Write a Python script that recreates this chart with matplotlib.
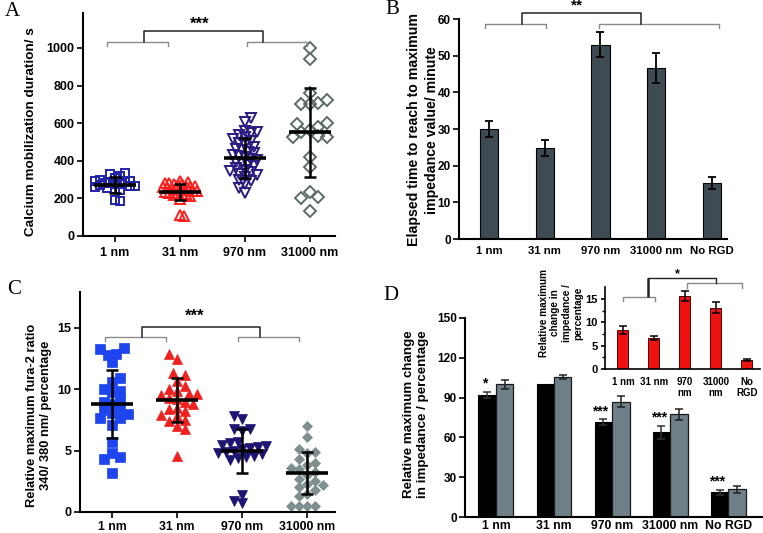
import numpy as np
import matplotlib
matplotlib.use('Agg')
import matplotlib.pyplot as plt

plt.rcParams['font.family'] = ['Liberation Sans', 'DejaVu Sans']
plt.rcParams['font.weight'] = 'bold'

W, H = 763, 533

# ---------------- data ----------------
scatter_cats = ['1 nm', '31 nm', '970 nm', '31000 nm']
bar_cats = ['1 nm', '31 nm', '970 nm', '31000 nm', 'No RGD']
inset_cats = ['1 nm', '31 nm', '970\nnm', '31000\nnm', 'No\nRGD']

# Panel A: calcium mobilization duration (s)
a_1nm = [335, 330, 320, 310, 300, 295, 290, 285, 282, 280, 278, 275, 270, 268, 265, 260, 255, 250, 245, 190, 185]
a_31nm = [295, 288, 283, 280, 277, 274, 270, 267, 264, 262, 259, 256, 253, 250, 248, 245, 242, 240, 237,
          234, 231, 228, 225, 222, 218, 212, 195, 112, 108]
a_970nm = [628, 608, 560, 555, 548, 535, 528, 515, 505, 495, 485, 475, 465, 455, 448, 440, 432, 425, 418,
           410, 402, 395, 388, 380, 372, 362, 352, 346, 340, 332, 322, 312, 300, 290, 278, 255, 230]
a_31000nm = [998, 940, 759, 723, 708, 702, 700, 600, 597, 580, 564, 555, 532, 528, 528, 422, 365, 236, 210, 200, 135]
a_mean = [270, 235, 413, 551]
a_sd = [42, 43, 107, 235]

# Panel B: elapsed time to max impedance (minute)
b_mean = [30.0, 24.8, 53.0, 46.7, 15.3]
b_err = [2.2, 2.2, 3.4, 4.1, 1.7]

# Panel C: relative max fura-2 ratio
c_1nm = [13.4, 13.3, 12.9, 12.8, 12.2, 10.9, 10.6, 10.0, 9.9, 9.8, 9.2, 9.0, 8.8, 8.5, 8.3, 8.1, 8.0, 7.7, 7.7,
         7.1, 5.7, 4.8, 4.5, 4.3, 3.2]
c_31nm = [12.9, 12.5, 11.3, 11.2, 10.7, 10.3, 10.0, 9.9, 9.6, 9.6, 9.5, 9.3, 9.2, 9.0, 8.8, 8.5, 8.4, 8.2, 7.9,
          7.8, 7.5, 7.4, 7.0, 6.8, 4.6]
c_970nm = [7.8, 7.6, 6.8, 6.8, 6.6, 5.7, 5.6, 5.5, 5.4, 5.3, 5.2, 5.1, 5.0, 4.9, 4.8, 4.7, 4.6, 4.5, 4.4, 4.2,
           1.4, 0.9, 0.7]
c_31000nm = [7.0, 6.1, 5.1, 4.9, 4.8, 4.3, 4.0, 3.8, 3.6, 3.5, 3.3, 3.0, 2.7, 2.5, 2.3, 2.2, 2.0, 1.8, 1.5,
             1.3, 0.5, 0.5, 0.5, 0.5]
c_mean = [8.8, 9.1, 4.95, 3.15]
c_sd = [2.8, 1.8, 1.8, 1.7]

# Panel D: relative maximum change in impedance (%)
d_black = [92.0, 100.0, 71.3, 63.8, 18.6]
d_black_err = [2.5, 0.0, 2.3, 5.0, 1.7]
d_gray = [100.0, 105.5, 86.9, 77.4, 20.8]
d_gray_err = [3.3, 1.8, 4.2, 4.0, 2.6]
d_stars = ['*', '', '***', '***', '***']

# Panel D inset
i_mean = [8.3, 6.6, 15.6, 13.1, 1.9]
i_err = [0.85, 0.45, 1.0, 1.15, 0.25]

# ---------------- helpers ----------------
fig = plt.figure(figsize=(W / 100, H / 100), dpi=100)


def px_axes(x0, y0, x1, y1):
    return fig.add_axes([x0 / W, 1 - y1 / H, (x1 - x0) / W, (y1 - y0) / H])


def style(ax, lw=1.5, fs=8.5):
    for s in ['top', 'right']:
        ax.spines[s].set_visible(False)
    for s in ['left', 'bottom']:
        ax.spines[s].set_linewidth(lw)
    ax.tick_params(axis='both', direction='out', width=1.2, length=4, labelsize=fs, pad=2)
    for lab in ax.get_xticklabels() + ax.get_yticklabels():
        lab.set_fontweight('bold')


def swarm(ax, xc, vals, d):
    vals = np.asarray(vals, float)
    pts = ax.transData.transform(np.column_stack([np.full(len(vals), xc), vals]))
    ypx = pts[:, 1]
    xpu = ax.transData.transform([[1, 0]])[0, 0] - ax.transData.transform([[0, 0]])[0, 0]
    order = np.argsort(np.abs(vals - np.median(vals)), kind='stable')
    placed = []
    offs = np.zeros(len(vals))
    step = d / 2.0
    for n, idx in enumerate(order):
        sign = 1 if n % 2 == 0 else -1
        for k in range(200):
            cand = ((k + 1) // 2) * step * (sign if k % 2 else -sign)
            ok = True
            for (px, py) in placed:
                if (cand - px) ** 2 + (ypx[idx] - py) ** 2 < d * d:
                    ok = False
                    break
            if ok:
                break
        placed.append((cand, ypx[idx]))
        offs[idx] = cand
    return offs / xpu


def sig_brackets(ax, g1, g2, top, ygray, ydrop, ytop, star, ystar, xstar, fs=12):
    for (x0, x1) in (g1, g2):
        ax.plot([x0, x0, x1, x1], [ydrop, ygray, ygray, ydrop], color='#8a8a8a', lw=1.0, clip_on=False)
    ax.plot([top[0], top[0], top[1], top[1]], [ygray, ytop, ytop, ygray], color='#222222', lw=1.1,
            clip_on=False)
    ax.text(xstar, ystar, star, ha='center', va='center', fontsize=fs, fontweight='bold', clip_on=False)


def scatter_panel(ax, groups, means, sds, markers, colors, filled, sizes, dists):
    for i, vals in enumerate(groups):
        x = i + 1
        off = swarm(ax, x, vals, dists[i])
        if filled:
            ax.plot(x + off, vals, ls='none', marker=markers[i], ms=sizes[i], mfc=colors[i], mec=colors[i],
                    mew=0.5, zorder=2)
        else:
            ax.plot(x + off, vals, ls='none', marker=markers[i], ms=sizes[i], mfc='none', mec=colors[i],
                    mew=1.4, zorder=2)
        ax.plot([x - 0.33, x + 0.33], [means[i], means[i]], color='black', lw=2.6, solid_capstyle='butt',
                zorder=4)
        ax.errorbar(x, means[i], yerr=sds[i], fmt='none', ecolor='black', elinewidth=1.8, capsize=4.3,
                    capthick=1.8, zorder=4)


def letter(x, y, s):
    fig.text(x / W, 1 - y / H, s, fontfamily='Liberation Serif', fontweight='normal', fontsize=15,
             ha='left', va='center')


def vlabel(x, y, s, fs, ls=1.2):
    fig.text(x / W, 1 - y / H, s, rotation=90, ha='center', va='center', fontsize=fs, fontweight='bold',
             multialignment='center', linespacing=ls)


# ---------------- Panel A ----------------
axA = px_axes(83, 13, 335, 236)
axA.set_xlim(0.508, 4.385)
axA.set_ylim(0, 1186)
axA.set_yticks([0, 200, 400, 600, 800, 1000])
axA.set_xticks([1, 2, 3, 4])
axA.set_xticklabels(scatter_cats)
style(axA, fs=9)
axA.tick_params(axis='x', pad=4)
scatter_panel(axA, [a_1nm, a_31nm, a_970nm, a_31000nm], a_mean, a_sd,
              ['s', '^', 'v', 'D'], ['#2323a8', '#ff1f1f', '#2b1a80', '#5e6b6b'], False,
              [6.2, 7.5, 7.5, 5.8], [5.0, 4.2, 6.0, 8.5])
sig_brackets(axA, (0.88, 1.82), (3.03, 3.95), (1.45, 3.28), 1032, 1011, 1091, '***', 1128, 2.3)
letter(5, 12, 'A')
vlabel(31, 132, 'Calcium mobilization duration/ s', 9.7)

# ---------------- Panel B ----------------
axB = px_axes(459, 19, 727, 239)
xb = np.arange(len(bar_cats))
axB.bar(xb, b_mean, width=0.33, color='#3e4b53', edgecolor='black', linewidth=0.8, zorder=2)
axB.errorbar(xb, b_mean, yerr=b_err, fmt='none', ecolor='black', elinewidth=1.3, capsize=2.9, capthick=1.3,
             zorder=3)
axB.set_xlim(-0.538, 4.27)
axB.set_ylim(0, 60)
axB.set_yticks(range(0, 61, 10))
axB.set_xticks(xb)
axB.set_xticklabels(bar_cats)
style(axB, fs=8.5)
axB.tick_params(axis='x', length=0, pad=5, labelsize=8.2)
sig_brackets(axB, (-0.07, 1.02), (1.97, 4.13), (0.59, 2.73), 58.6, 57.5, 61.6, '**', 63.6, 1.58, fs=11)
letter(385, 10, 'B')
vlabel(423, 130, 'Elapsed time to reach to maximum\nimpedance value/ minute', 10.2, 1.3)

# ---------------- Panel C ----------------
axC = px_axes(80, 292, 335, 512)
axC.set_xlim(0.508, 4.43)
axC.set_ylim(0, 17.93)
axC.set_yticks([0, 5, 10, 15])
axC.set_xticks([1, 2, 3, 4])
axC.set_xticklabels(scatter_cats)
style(axC, fs=9)
axC.tick_params(axis='x', pad=2.5, labelsize=8.8)
scatter_panel(axC, [c_1nm, c_31nm, c_970nm, c_31000nm], c_mean, c_sd,
              ['s', '^', 'v', 'D'], ['#1f45ee', '#ee2020', '#1e1472', '#7f8f8f'], True,
              [6.5, 6.5, 6.5, 5.2], [8.0, 8.0, 8.0, 8.0])
sig_brackets(axC, (0.89, 1.83), (2.94, 3.88), (1.46, 3.28), 14.26, 13.9, 15.08, '***', 15.95, 2.27)
letter(7, 290, 'C')
vlabel(39, 415, 'Relative maximum fura-2 ratio\n340/ 380 nm/ percentage', 9.3, 1.2)

# ---------------- Panel D ----------------
axD = px_axes(465, 318, 762, 517)
xd = np.arange(len(bar_cats))
bw = 0.30
axD.bar(xd - bw / 2, d_black, width=bw, color='black', edgecolor='black', linewidth=0.8, zorder=2)
axD.bar(xd + bw / 2, d_gray, width=bw, color='#6e7f87', edgecolor='#1a1a1a', linewidth=0.9, zorder=2)
be = np.array(d_black_err)
mask = be > 0
axD.errorbar((xd - bw / 2)[mask], np.array(d_black)[mask], yerr=be[mask], fmt='none', ecolor='#333333',
             elinewidth=1.1, capsize=2.8, capthick=1.1, zorder=3)
axD.errorbar(xd + bw / 2, d_gray, yerr=d_gray_err, fmt='none', ecolor='#222222', elinewidth=1.1, capsize=2.8,
             capthick=1.1, zorder=3)
for i, s in enumerate(d_stars):
    if s:
        top = d_black[i] + d_black_err[i]
        axD.text(xd[i] - bw / 2 - 0.05, top + 1.0, s, ha='center', va='bottom', fontsize=10,
                 fontweight='bold')
axD.set_xlim(-0.532, 4.58)
axD.set_ylim(0, 150)
axD.set_yticks(range(0, 151, 30))
axD.set_xticks(xd)
axD.set_xticklabels(bar_cats)
style(axD, fs=8.5)
axD.tick_params(axis='x', length=0, pad=2, labelsize=8.8)
letter(383, 295, 'D')
vlabel(416, 414, 'Relative maximum change\nin impedance / percentage', 9.6, 1.2)

# ---------------- Panel D inset ----------------
axI = px_axes(605, 287, 760, 369)
xi = np.arange(len(inset_cats))
axI.bar(xi, i_mean, width=0.355, color='#ee1111', edgecolor='#5a0000', linewidth=0.7, zorder=2)
axI.errorbar(xi, i_mean, yerr=i_err, fmt='none', ecolor='black', elinewidth=1.1, capsize=2.6, capthick=1.1,
             zorder=3)
axI.set_xlim(-0.58, 4.42)
axI.set_ylim(0, 17.56)
axI.set_yticks([0, 5, 10, 15])
axI.set_yticks([2.5, 7.5, 12.5], minor=True)
axI.set_xticks(xi)
axI.set_xticklabels(inset_cats, linespacing=1.1)
style(axI, lw=1.2, fs=8)
axI.tick_params(axis='y', labelsize=8, length=3)
axI.tick_params(axis='y', which='minor', length=2, width=1.0)
axI.tick_params(axis='x', length=0, labelsize=7, pad=6)
axI.plot([0.0, 0.0, 1.03, 1.03], [14.6, 15.35, 15.35, 14.6], color='#8a8a8a', lw=1.0, clip_on=False)
axI.plot([2.05, 2.05, 3.85, 3.85], [17.3, 18.4, 18.4, 17.3], color='#8a8a8a', lw=1.0, clip_on=False)
axI.plot([0.81, 0.81], [15.35, 19.4], color='#222222', lw=1.8, clip_on=False, solid_capstyle='butt')
axI.plot([0.81, 3.0, 3.0], [19.4, 19.4, 18.4], color='#222222', lw=1.0, clip_on=False)
axI.text(1.77, 20.4, '*', ha='center', va='center', fontsize=9, fontweight='bold', clip_on=False)
vlabel(561, 313, 'Relative maximum\nchange in\nimpedance /\npercentage', 7.2, 1.15)

fig.savefig('out.png', dpi=100)
